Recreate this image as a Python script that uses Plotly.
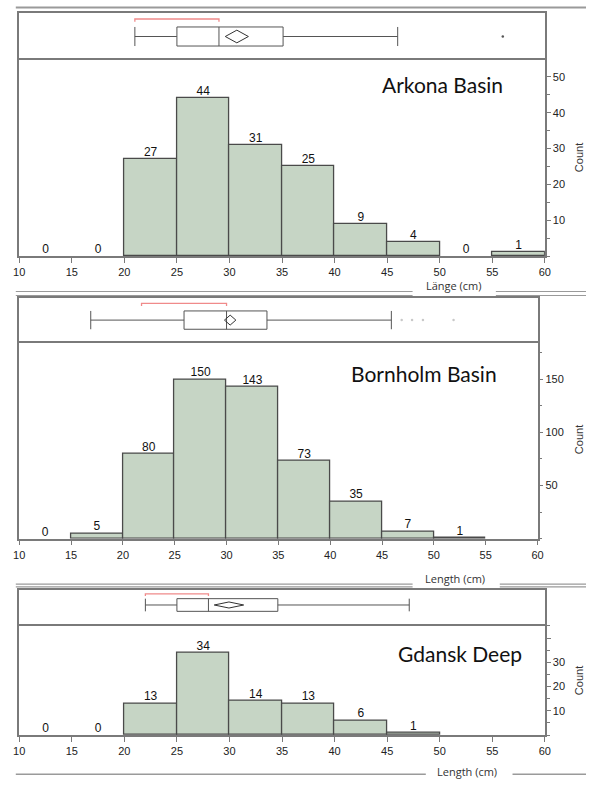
import plotly.graph_objects as go

W, H = 592, 796

# ---------------- data ----------------
regions = ["Arkona Basin", "Bornholm Basin", "Gdansk Deep"]
x_titles = ["Länge (cm)", "Length (cm)", "Length (cm)"]
y_title = "Count"

bin_width = 5
arkona_bin_lo = [10, 15, 20, 25, 30, 35, 40, 45, 50, 55]
arkona_counts = [0, 0, 27, 44, 31, 25, 9, 4, 0, 1]
bornholm_bin_lo = [10, 15, 20, 25, 30, 35, 40, 45, 50]
bornholm_counts = [0, 5, 80, 150, 143, 73, 35, 7, 1]
gdansk_bin_lo = [10, 15, 20, 25, 30, 35, 40, 45]
gdansk_counts = [0, 0, 13, 34, 14, 13, 6, 1]

# outlier box plot summaries (cm)
whisker_lo = [21.0, 16.9, 22.0]
q1 = [25.0, 25.9, 25.0]
median = [29.0, 30.0, 28.0]
q3 = [35.1, 33.9, 34.6]
whisker_hi = [46.0, 45.9, 47.1]
mean = [30.7, 30.35, 29.95]
mean_ci_lo = [29.6, 29.8, 28.55]
mean_ci_hi = [31.8, 30.9, 31.35]
shortest_half_lo = [21.0, 21.8, 22.0]
shortest_half_hi = [29.0, 30.0, 28.0]
arkona_outliers = [56.0]
bornholm_outliers = [46.9, 47.9, 48.95, 51.9]
gdansk_outliers = []

x_tick_vals = [10, 15, 20, 25, 30, 35, 40, 45, 50, 55, 60]
x_tick_text = ["10", "15", "20", "25", "30", "35", "40", "45", "50", "55", "60"]
arkona_y_ticks = [10, 20, 30, 40, 50]
arkona_y_text = ["10", "20", "30", "40", "50"]
bornholm_y_ticks = [50, 100, 150]
bornholm_y_text = ["50", "100", "150"]
gdansk_y_ticks = [10, 20, 30, 40]
gdansk_y_text = ["10", "20", "30", ""]

bins = [arkona_bin_lo, bornholm_bin_lo, gdansk_bin_lo]
counts = [arkona_counts, bornholm_counts, gdansk_counts]
outliers = [arkona_outliers, bornholm_outliers, gdansk_outliers]
y_ticks = [arkona_y_ticks, bornholm_y_ticks, gdansk_y_ticks]
y_text = [arkona_y_text, bornholm_y_text, gdansk_y_text]

# ---------------- geometry / style ----------------
geo = [
    dict(x0=13.5, x1=550.0, top=13.0, sep=60.0, axis=256.0, ymax=54.7, minor=5,
         brange=[-1, 1], bw=0.81, dh=0.27, bry=0.745, title_cx=446, title_cy=85,
         xt_cx=457, xt_cy=285.5, outc="#555555", cnt_cy=158),
    dict(x0=13.5, x1=542.5, top=297.5, sep=342.7, axis=538.7, ymax=184.4, minor=25,
         brange=[-1, 1], bw=0.81, dh=0.22, bry=0.74, title_cx=427, title_cy=373,
         xt_cx=458, xt_cy=578.3, outc="#c8c8c8", cnt_cy=440),
    dict(x0=13.5, x1=550.0, top=590.0, sep=625.7, axis=735.0, ymax=45.1, minor=5,
         brange=[-1.16, 0.84], bw=0.71, dh=0.17, bry=0.62, title_cx=463, title_cy=653,
         xt_cx=471, xt_cy=771.5, outc="#555555", cnt_cy=681),
]

BAR_FILL = "#c6d5c5"
BAR_LINE = "#4a4a4a"
FRAME = "#7a7a7a"
TICKF = dict(family="Liberation Sans, Arial, sans-serif", size=11, color="#222222")


def fx(p):
    return p / W


def fy(p):
    return 1 - p / H


fig = go.Figure()
layout = {}

for i in range(3):
    g = geo[i]
    nb = 2 * i + 1
    nh = 2 * i + 2
    bxa = "x" if nb == 1 else f"x{nb}"
    bya = "y" if nb == 1 else f"y{nb}"
    hxa = f"x{nh}"
    hya = f"y{nh}"

    # ---- box panel ----
    fig.add_trace(go.Box(
        q1=[q1[i]], median=[median[i]], q3=[q3[i]],
        lowerfence=[whisker_lo[i]], upperfence=[whisker_hi[i]],
        y=[0], orientation="h", width=g["bw"], whiskerwidth=1,
        fillcolor="white", line=dict(color="#555555", width=1),
        boxpoints=False, xaxis=bxa, yaxis=bya, showlegend=False, hoverinfo="skip"))
    # mean diamond
    fig.add_trace(go.Scatter(
        x=[mean_ci_lo[i], mean[i], mean_ci_hi[i], mean[i], mean_ci_lo[i]],
        y=[0, g["dh"], 0, -g["dh"], 0], mode="lines",
        line=dict(color="#333333", width=1), xaxis=bxa, yaxis=bya,
        showlegend=False, hoverinfo="skip"))
    # shortest half bracket
    drop = 0.12
    fig.add_trace(go.Scatter(
        x=[shortest_half_lo[i], shortest_half_lo[i], shortest_half_hi[i], shortest_half_hi[i]],
        y=[g["bry"] - drop, g["bry"], g["bry"], g["bry"] - drop], mode="lines",
        line=dict(color="#f08a8a", width=1.3), xaxis=bxa, yaxis=bya,
        showlegend=False, hoverinfo="skip"))
    if outliers[i]:
        fig.add_trace(go.Scatter(
            x=outliers[i], y=[0] * len(outliers[i]), mode="markers",
            marker=dict(size=2.5, color=g["outc"]), xaxis=bxa, yaxis=bya,
            showlegend=False, hoverinfo="skip"))

    layout["xaxis" if nb == 1 else f"xaxis{nb}"] = dict(
        domain=[fx(g["x0"]), fx(g["x1"])], range=[10, 60], anchor=bya, side="top",
        showline=True, mirror=False, linecolor=FRAME, linewidth=1.5,
        showticklabels=False, ticks="", showgrid=False, zeroline=False, fixedrange=True)
    layout["yaxis" if nb == 1 else f"yaxis{nb}"] = dict(
        domain=[fy(g["sep"]), fy(g["top"])], range=g["brange"], anchor=bxa,
        showline=True, mirror=True, linecolor=FRAME, linewidth=1.5,
        showticklabels=False, ticks="", showgrid=False, zeroline=False, fixedrange=True)

    # ---- histogram ----
    centers = [b + bin_width / 2 for b in bins[i]]
    fig.add_trace(go.Bar(
        x=centers, y=counts[i], width=bin_width,
        marker=dict(color=BAR_FILL,
                    line=dict(color=BAR_LINE, width=[1.3 if c > 0 else 0 for c in counts[i]])),
        xaxis=hxa, yaxis=hya, showlegend=False, hoverinfo="skip"))
    fig.add_trace(go.Scatter(
        x=centers, y=counts[i], mode="text", text=[str(c) for c in counts[i]],
        textposition="top center", cliponaxis=False,
        textfont=dict(family="Liberation Sans, Arial, sans-serif", size=12, color="#111111"),
        xaxis=hxa, yaxis=hya, showlegend=False, hoverinfo="skip"))

    layout[f"xaxis{nh}"] = dict(
        domain=[fx(g["x0"]), fx(g["x1"])], range=[10, 60], anchor=hya,
        tickmode="array", tickvals=x_tick_vals, ticktext=x_tick_text,
        ticks="outside", ticklen=5, tickwidth=1, tickcolor=FRAME, tickfont=TICKF,
        showline=True, mirror=True, linecolor=FRAME, linewidth=1.5,
        showgrid=False, zeroline=False, fixedrange=True)
    layout[f"yaxis{nh}"] = dict(
        domain=[fy(g["axis"]), fy(g["sep"])], range=[0, g["ymax"]], anchor=hxa,
        side="right", tickmode="array", tickvals=y_ticks[i], ticktext=y_text[i],
        ticks="outside", ticklen=4, tickwidth=1, tickcolor=FRAME, tickfont=TICKF,
        minor=dict(tickmode="linear", tick0=0, dtick=g["minor"], ticks="outside",
                   ticklen=3, tickcolor=FRAME, showgrid=False),
        showline=True, mirror=True, linecolor=FRAME, linewidth=1.5,
        showgrid=False, zeroline=False, fixedrange=True)

# ---------------- annotations ----------------
annotations = []
for i in range(3):
    g = geo[i]
    annotations.append(dict(
        text=regions[i], xref="paper", yref="paper", x=fx(g["title_cx"]), y=fy(g["title_cy"]),
        xanchor="center", yanchor="middle", showarrow=False,
        font=dict(family="Lato, Open Sans, sans-serif", size=21, color="#111111")))
    annotations.append(dict(
        text=x_titles[i], xref="paper", yref="paper", x=fx(g["xt_cx"]), y=fy(g["xt_cy"]),
        xanchor="center", yanchor="middle", showarrow=False,
        font=dict(family="Open Sans, sans-serif", size=11, color="#333333")))
    annotations.append(dict(
        text=y_title, xref="paper", yref="paper", x=fx(585), y=fy(g["cnt_cy"]),
        xanchor="center", yanchor="middle", showarrow=False, textangle=-90,
        font=dict(family="Liberation Sans, Arial, sans-serif", size=11, color="#333333")))

# ---------------- decorative separator lines ----------------
shapes = []


def hline(x0, x1, y, w=1.2, c="#9a9a9a"):
    shapes.append(dict(type="line", xref="paper", yref="paper",
                       x0=fx(x0), x1=fx(x1), y0=fy(y), y1=fy(y),
                       line=dict(color=c, width=w)))


hline(10, 592, 7.5, w=2)
for y in (291.5, 295.5):
    hline(10, 415, y)
    hline(500, 592, y)
for y in (584.2, 586.8):
    hline(10, 415, y)
    hline(504, 592, y)
hline(10, 428.5, 774.3, w=1.5)
hline(517, 592, 774.3, w=1.5)

fig.update_layout(
    width=W, height=H, autosize=False,
    margin=dict(l=0, r=0, t=0, b=0),
    paper_bgcolor="white", plot_bgcolor="white",
    bargap=0, showlegend=False,
    annotations=annotations, shapes=shapes,
    **layout)

fig.write_html("out.html", config={"displayModeBar": False},
               post_script="document.body.style.margin='0';")
